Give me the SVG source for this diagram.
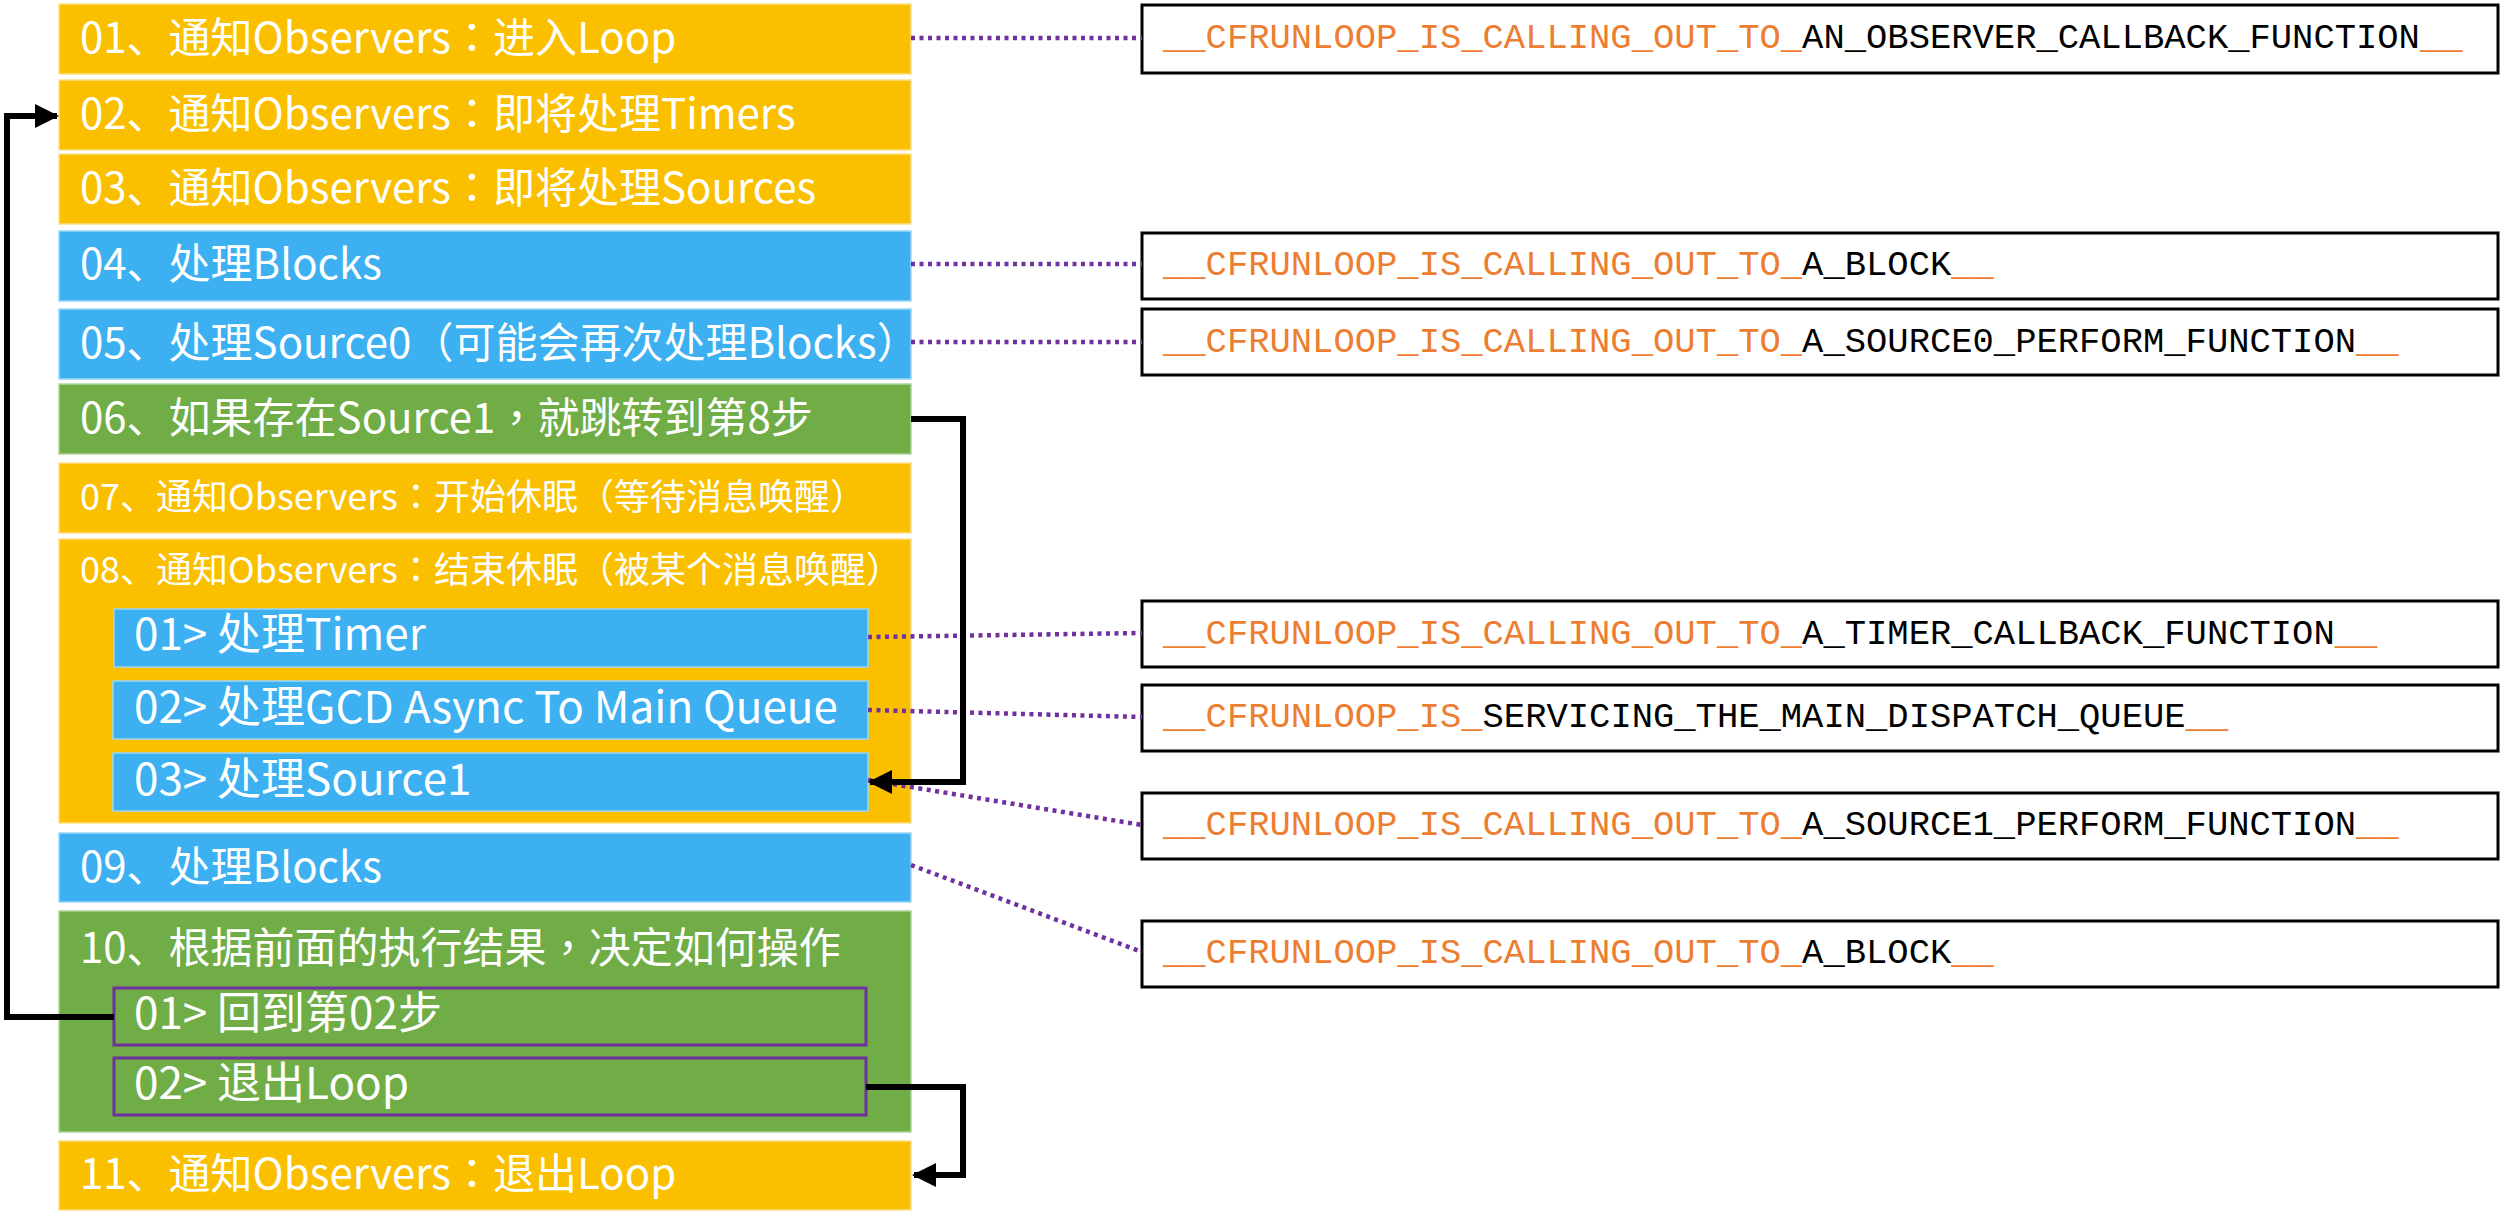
<svg xmlns="http://www.w3.org/2000/svg" width="2504" height="1216" viewBox="0 0 2504 1216">
<defs>
<style>
.y{fill:#FAC000;stroke:#FCE08A;stroke-width:1.5}
.b{fill:#3CB0F0;stroke:#9AD6F7;stroke-width:1.5}
.g{fill:#70AD47;stroke:#B0D39A;stroke-width:1.5}
.gs{fill:#70AD47;stroke:#7030A0;stroke-width:3}
.bs{fill:#3CB0F0;stroke:#9AD6F7;stroke-width:1.5}
.t{font-family:"Noto Sans CJK SC","Microsoft YaHei",sans-serif;fill:#FFFFFF;font-size:42px}
.ts{font-size:36px}
.tm{font-size:44px}
.p{font-family:"Noto Sans CJK TC","Noto Sans CJK SC",sans-serif}
.rb{fill:#FFFFFF;stroke:#000000;stroke-width:3}
.m{font-family:"Liberation Mono","DejaVu Sans Mono",monospace;font-size:35.5px;fill:#000000}
.o{fill:#ED7D31}
.dot{fill:none;stroke:#7030A0;stroke-width:4.5;stroke-dasharray:4 4.5}
.arr{fill:none;stroke:#000000;stroke-width:6}
</style>
<marker id="ah" markerUnits="userSpaceOnUse" markerWidth="24" markerHeight="24" viewBox="0 0 24 24" refX="22" refY="12" orient="auto">
<path d="M0,0 L24,12 L0,24 Z" fill="#000000"/>
</marker>
</defs>

<g id="step01"><rect class="y" x="59" y="4" width="852" height="70"/><text class="t" x="80" y="53">01、通知Observers<tspan class="p">：</tspan>进入Loop</text></g>
<g id="step02"><rect class="y" x="59" y="80" width="852" height="70"/><text class="t" x="80" y="129">02、通知Observers<tspan class="p">：</tspan>即将处理Timers</text></g>
<g id="step03"><rect class="y" x="59" y="154" width="852" height="70"/><text class="t" x="80" y="203">03、通知Observers<tspan class="p">：</tspan>即将处理Sources</text></g>
<g id="step04"><rect class="b" x="59" y="231" width="852" height="70"/><text class="t" x="80" y="279">04、处理Blocks</text></g>
<g id="step05"><rect class="b" x="59" y="309" width="852" height="70"/><text class="t" x="80" y="358">05、处理Source0（可能会再次处理Blocks）</text></g>
<g id="step06"><rect class="g" x="59" y="384" width="852" height="70"/><text class="t" x="80" y="433">06、如果存在Source1<tspan class="p">，</tspan>就跳转到第8步</text></g>
<g id="step07"><rect class="y" x="59" y="463" width="852" height="70"/><text class="t ts" x="80" y="510">07、通知Observers<tspan class="p">：</tspan>开始休眠（等待消息唤醒）</text></g>
<g id="step08"><rect class="y" x="59" y="539" width="852" height="284"/><text class="t ts" x="80" y="583">08、通知Observers<tspan class="p">：</tspan>结束休眠（被某个消息唤醒）</text>
<g id="step08-1"><rect class="bs" x="114" y="609" width="754" height="58"/><text class="t tm" x="134" y="650">01&gt; 处理Timer</text></g>
<g id="step08-2"><rect class="bs" x="113" y="681" width="755" height="58"/><text class="t tm" x="134" y="723">02&gt; 处理GCD Async To Main Queue</text></g>
<g id="step08-3"><rect class="bs" x="113" y="753" width="755" height="58"/><text class="t tm" x="134" y="795">03&gt; 处理Source1</text></g>
</g>
<g id="step09"><rect class="b" x="59" y="833" width="852" height="69"/><text class="t" x="80" y="882">09、处理Blocks</text></g>
<g id="step10"><rect class="g" x="59" y="911" width="852" height="221"/><text class="t" x="80" y="963">10、根据前面的执行结果<tspan class="p">，</tspan>决定如何操作</text>
<g id="step10-1"><rect class="gs" x="114" y="988" width="752" height="57"/><text class="t tm" x="134" y="1029">01&gt; 回到第02步</text></g>
<g id="step10-2"><rect class="gs" x="114" y="1058" width="752" height="57"/><text class="t tm" x="134" y="1099">02&gt; 退出Loop</text></g>
</g>
<g id="step11"><rect class="y" x="59" y="1141" width="852" height="69"/><text class="t" x="80" y="1189">11、通知Observers<tspan class="p">：</tspan>退出Loop</text></g>

<g id="fn-observer"><rect class="rb" x="1142" y="5" width="1356" height="68"/><text class="m" x="1163" y="48"><tspan class="o">__CFRUNLOOP_IS_CALLING_OUT_TO_</tspan>AN_OBSERVER_CALLBACK_FUNCTION<tspan class="o">__</tspan></text></g>
<g id="fn-block1"><rect class="rb" x="1142" y="233" width="1356" height="66"/><text class="m" x="1163" y="275"><tspan class="o">__CFRUNLOOP_IS_CALLING_OUT_TO_</tspan>A_BLOCK<tspan class="o">__</tspan></text></g>
<g id="fn-source0"><rect class="rb" x="1142" y="309" width="1356" height="66"/><text class="m" x="1163" y="352"><tspan class="o">__CFRUNLOOP_IS_CALLING_OUT_TO_</tspan>A_SOURCE0_PERFORM_FUNCTION<tspan class="o">__</tspan></text></g>
<g id="fn-timer"><rect class="rb" x="1142" y="601" width="1356" height="66"/><text class="m" x="1163" y="644"><tspan class="o">__CFRUNLOOP_IS_CALLING_OUT_TO_</tspan>A_TIMER_CALLBACK_FUNCTION<tspan class="o">__</tspan></text></g>
<g id="fn-gcd"><rect class="rb" x="1142" y="685" width="1356" height="66"/><text class="m" x="1163" y="727"><tspan class="o">__CFRUNLOOP_IS_</tspan>SERVICING_THE_MAIN_DISPATCH_QUEUE<tspan class="o">__</tspan></text></g>
<g id="fn-source1"><rect class="rb" x="1142" y="793" width="1356" height="66"/><text class="m" x="1163" y="835"><tspan class="o">__CFRUNLOOP_IS_CALLING_OUT_TO_</tspan>A_SOURCE1_PERFORM_FUNCTION<tspan class="o">__</tspan></text></g>
<g id="fn-block2"><rect class="rb" x="1142" y="921" width="1356" height="66"/><text class="m" x="1163" y="963"><tspan class="o">__CFRUNLOOP_IS_CALLING_OUT_TO_</tspan>A_BLOCK<tspan class="o">__</tspan></text></g>

<g id="connectors">
<path class="dot" d="M911,38 L1142,38"/>
<path class="dot" d="M911,264 L1142,264"/>
<path class="dot" d="M911,342 L1142,342"/>
<path class="dot" d="M868,637 L1142,633"/>
<path class="dot" d="M868,710 L1142,717"/>
<path class="dot" d="M868,780 L1142,825"/>
<path class="dot" d="M911,865 L1142,952"/>
<path class="arr" d="M911,419 L963,419 L963,782 L870,782" marker-end="url(#ah)"/>
<path class="arr" d="M114,1017 L7,1017 L7,116 L57,116" marker-end="url(#ah)"/>
<path class="arr" d="M866,1087 L963,1087 L963,1175 L914,1175" marker-end="url(#ah)"/>
</g>
</svg>
